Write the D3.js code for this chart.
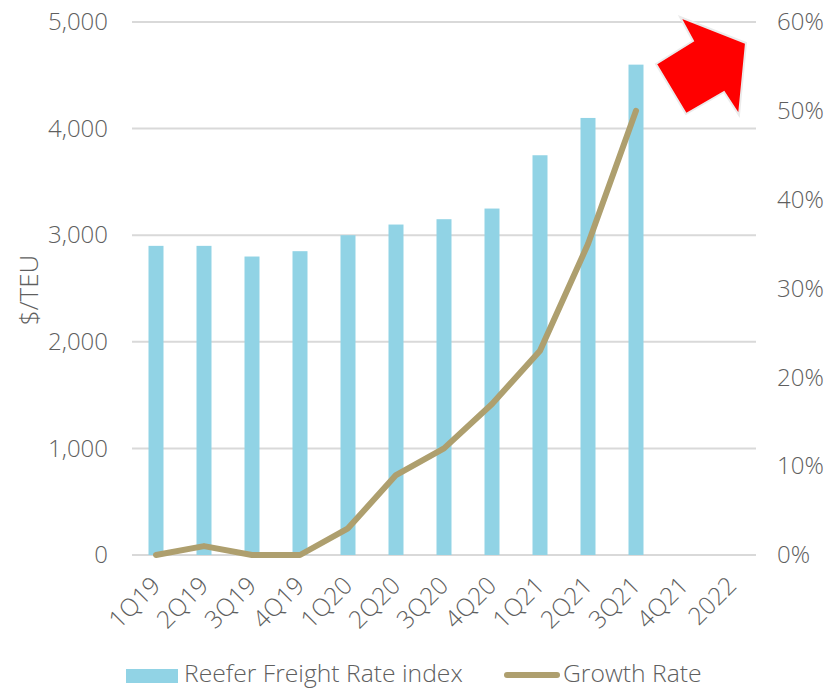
<!DOCTYPE html>
<html>
<head>
<meta charset="utf-8">
<script src="https://cdn.jsdelivr.net/npm/d3@7"></script>
<style>
    html, body { margin: 0; padding: 0; background: #fff; }
    svg { display: block; }
    text { font-family: "Open Sans", sans-serif; font-weight: 300; fill: #5f5f5f; }
</style>
</head>
<body>
<div id="chart"></div>
<script>
const quarters = ["1Q19", "2Q19", "3Q19", "4Q19", "1Q20", "2Q20", "3Q20", "4Q20", "1Q21", "2Q21", "3Q21", "4Q21", "2022"];
const freightRate = [2900, 2900, 2800, 2850, 3000, 3100, 3150, 3250, 3750, 4100, 4600, null, null];
const growthRate = [0, 0.01, 0, 0, 0.03, 0.09, 0.12, 0.17, 0.23, 0.35, 0.5, null, null];
const rateTicks = [0, 1000, 2000, 3000, 4000, 5000];
const growthTicks = [0, 0.1, 0.2, 0.3, 0.4, 0.5, 0.6];

const width = 827, height = 689;
const margin = { top: 22, right: 71, bottom: 134, left: 132 };
const plotW = width - margin.left - margin.right;
const plotH = height - margin.top - margin.bottom;

const barColor = "#91d3e5", lineColor = "#ae9f6e", gridColor = "#d9d9d9";

const svg = d3.select("#chart").append("svg")
    .attr("width", width)
    .attr("height", height);

const g = svg.append("g")
    .attr("transform", `translate(${margin.left}, ${margin.top})`);

// Scales
const xScale = d3.scaleBand().domain(quarters).range([0, plotW]);
const yScale = d3.scaleLinear().domain([0, 5000]).range([plotH, 0]);
const yGrowth = d3.scaleLinear().domain([0, 0.6]).range([plotH, 0]);

// Grid lines
g.selectAll(".grid")
    .data(rateTicks)
    .enter()
    .append("line")
    .attr("class", "grid")
    .attr("x1", 0)
    .attr("x2", plotW)
    .attr("y1", d => yScale(d))
    .attr("y2", d => yScale(d))
    .attr("stroke", gridColor)
    .attr("stroke-width", 2);

// Bars
const barData = quarters.map((q, i) => ({ q: q, v: freightRate[i] })).filter(d => d.v !== null);
g.selectAll(".bar")
    .data(barData)
    .enter()
    .append("rect")
    .attr("class", "bar")
    .attr("x", d => xScale(d.q) + xScale.bandwidth() / 2 - 7.5)
    .attr("width", 15)
    .attr("y", d => yScale(d.v))
    .attr("height", d => plotH - yScale(d.v))
    .attr("fill", barColor);

// Growth line
const line = d3.line()
    .defined(d => d.v !== null)
    .x(d => xScale(d.q) + xScale.bandwidth() / 2)
    .y(d => yGrowth(d.v));

g.append("path")
    .datum(quarters.map((q, i) => ({ q: q, v: growthRate[i] })))
    .attr("d", line)
    .attr("fill", "none")
    .attr("stroke", lineColor)
    .attr("stroke-width", 6)
    .attr("stroke-linecap", "round")
    .attr("stroke-linejoin", "round");

// Axes
const leftAxis = g.append("g")
    .call(d3.axisLeft(yScale).tickValues(rateTicks).tickFormat(d3.format(",")).tickSize(0).tickPadding(24));
const rightAxis = g.append("g")
    .attr("transform", `translate(${plotW}, 0)`)
    .call(d3.axisRight(yGrowth).tickValues(growthTicks).tickFormat(d3.format(".0%")).tickSize(0).tickPadding(21));
const bottomAxis = g.append("g")
    .attr("transform", `translate(0, ${plotH})`)
    .call(d3.axisBottom(xScale).tickSize(0).tickPadding(0));

for (const a of [leftAxis, rightAxis, bottomAxis]) {
    a.select(".domain").remove();
    a.selectAll("text").style("font-size", "24px").style("font-family", null);
}

bottomAxis.selectAll("text")
    .style("font-size", "24.5px")
    .attr("text-anchor", "end")
    .attr("dy", null)
    .attr("y", 0)
    .attr("transform", "translate(6, 32) rotate(-45)");

// Y axis title
svg.append("text")
    .attr("transform", "translate(38, 290) rotate(-90)")
    .attr("text-anchor", "middle")
    .style("font-size", "26px")
    .text("$/TEU");

// Legend
svg.append("rect")
    .attr("x", 126).attr("y", 669)
    .attr("width", 52).attr("height", 14)
    .attr("fill", barColor);
svg.append("text")
    .attr("x", 184).attr("y", 681.5)
    .style("font-size", "24.7px")
    .text("Reefer Freight Rate index");
svg.append("line")
    .attr("x1", 507).attr("x2", 557)
    .attr("y1", 675).attr("y2", 675)
    .attr("stroke", lineColor)
    .attr("stroke-width", 6)
    .attr("stroke-linecap", "round");
svg.append("text")
    .attr("x", 563).attr("y", 681.5)
    .style("font-size", "24.7px")
    .text("Growth Rate");

// Red arrow annotation
svg.append("polygon")
    .attr("points", "680,17 746,43 739,115 724,92 686,114 656,64 693,41")
    .attr("fill", "#ff0000")
    .attr("stroke", "#ebebeb")
    .attr("stroke-width", 2);
</script>
</body>
</html>
